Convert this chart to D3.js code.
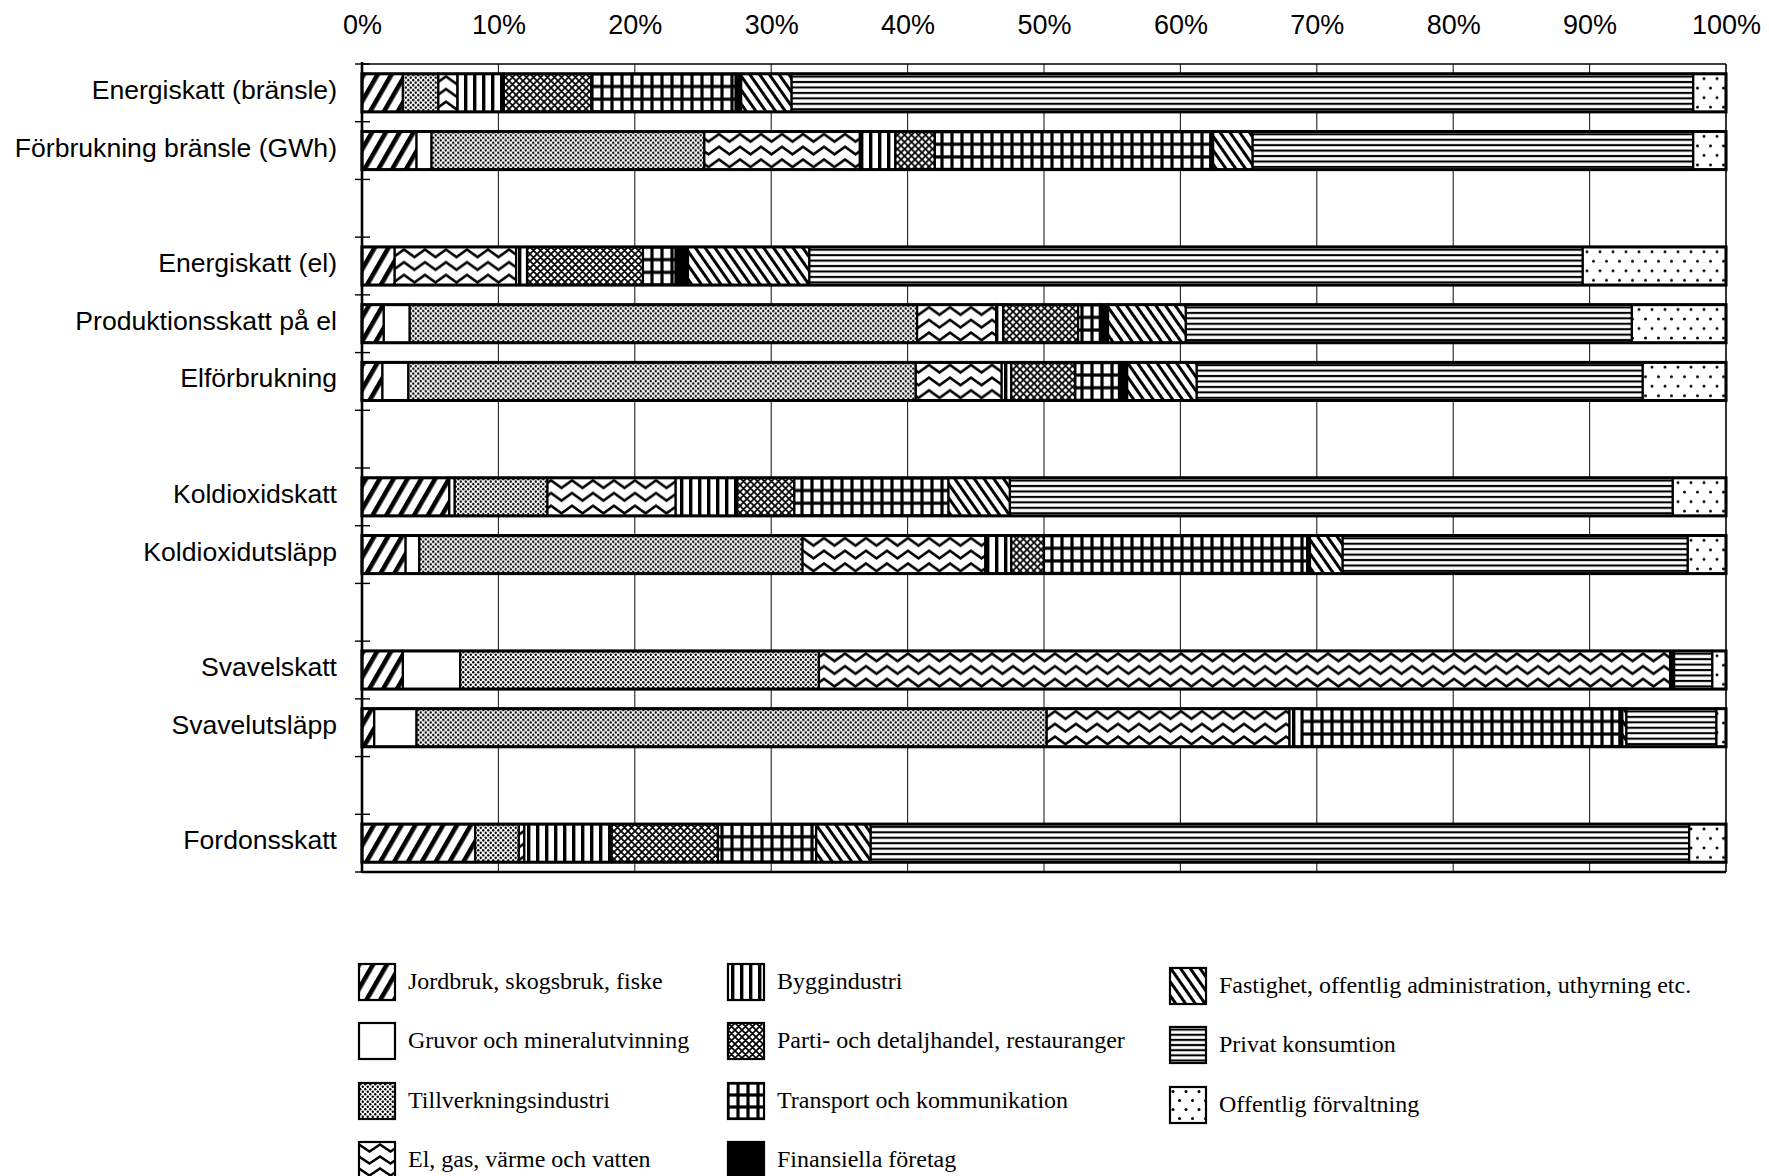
<!DOCTYPE html>
<html><head><meta charset="utf-8">
<script src="https://cdn.jsdelivr.net/npm/d3@7"></script>
<style>body{margin:0;background:#fff} svg{display:block}</style>
</head><body>
<svg id="chart" width="1769" height="1176"></svg>
<script>
// ---------------- DATA ----------------
const categories = ["Energiskatt (bränsle)", "Förbrukning bränsle (GWh)", "Energiskatt (el)",
  "Produktionsskatt på el", "Elförbrukning", "Koldioxidskatt", "Koldioxidutsläpp",
  "Svavelskatt", "Svavelutsläpp", "Fordonsskatt"];
// order of rows, null = empty gap row
const slotOrder = [0, 1, null, 2, 3, 4, null, 5, 6, null, 7, 8, null, 9];
const sectorNames = ["Jordbruk, skogsbruk, fiske", "Gruvor och mineralutvinning", "Tillverkningsindustri",
  "El, gas, värme och vatten", "Byggindustri", "Parti- och detaljhandel, restauranger",
  "Transport och kommunikation", "Finansiella företag",
  "Fastighet, offentlig administration, uthyrning etc.", "Privat konsumtion", "Offentlig förvaltning"];
// shares in percent, one value per category
const jordbruk     = [3.0, 4.0, 2.4, 1.6, 1.5, 6.4, 3.2, 3.0, 0.9, 8.3];
const gruvor       = [0.0, 1.1, 0.0, 1.9, 1.9, 0.4, 1.0, 4.2, 3.1, 0.0];
const tillverkning = [2.6, 20.0, 0.0, 37.2, 37.2, 6.8, 28.1, 26.3, 46.2, 3.2];
const elGas        = [1.4, 11.4, 8.9, 5.8, 6.3, 9.4, 13.4, 62.4, 17.8, 0.4];
const bygg         = [3.4, 2.6, 0.8, 0.5, 0.7, 4.5, 1.9, 0.0, 0.9, 6.4];
const parti        = [6.4, 2.9, 8.5, 5.5, 4.7, 4.2, 2.4, 0.0, 0.0, 7.8];
const transport    = [10.6, 20.2, 2.4, 1.6, 3.2, 11.3, 19.3, 0.0, 23.3, 7.2];
const finansiella  = [0.4, 0.2, 0.9, 0.6, 0.6, 0.0, 0.2, 0.3, 0.2, 0.0];
const fastighet    = [3.7, 2.9, 8.9, 5.7, 5.1, 4.5, 2.4, 0.0, 0.3, 4.0];
const privat       = [66.1, 32.3, 56.7, 32.7, 32.7, 48.6, 25.3, 2.8, 6.6, 60.0];
const offentlig    = [2.4, 2.4, 10.5, 6.9, 6.1, 3.9, 2.8, 1.0, 0.7, 2.7];
const percentTicks = [0, 10, 20, 30, 40, 50, 60, 70, 80, 90, 100];
// legend layout: [column, row] for each sector
const legendCells = [[0,0],[0,1],[0,2],[0,3],[1,0],[1,1],[1,2],[1,3],[2,0],[2,1],[2,2]];

// ---------------- SETUP ----------------
const seriesValues = [jordbruk, gruvor, tillverkning, elGas, bygg, parti, transport, finansiella, fastighet, privat, offentlig];
const keys = seriesValues.map((_, k) => "s" + k);
const table = categories.map((c, i) => {
  const o = {cat: c, idx: i};
  seriesValues.forEach((arr, k) => o["s" + k] = arr[i]);
  return o;
});
const stacked = d3.stack().keys(keys)(table);

const svg = d3.select("#chart");
const defs = svg.append("defs");
const X0 = 362, X1 = 1726, Y0 = 64, Y1 = 872;
const x = d3.scaleLinear().domain([0, 100]).range([X0, X1]);
const y = d3.scaleBand().domain(d3.range(slotOrder.length)).range([Y0, Y1]).paddingInner(0.34).paddingOuter(0.17);
const bh = y.bandwidth();
const slotOf = i => slotOrder.indexOf(i);

function addPattern(id, k, ox, oy, h) {
  const p = defs.append("pattern").attr("id", id).attr("patternUnits", "userSpaceOnUse").attr("x", ox).attr("y", oy);
  const bg = (w, hh, c) => p.append("rect").attr("width", w).attr("height", hh).attr("fill", c);
  if (k === 0) { p.attr("width", 12).attr("height", 12).attr("patternTransform", "rotate(30)");
    bg(12, 12, "#fff"); p.append("rect").attr("width", 4.6).attr("height", 12).attr("fill", "#000"); }
  else if (k === 1) { p.attr("width", 10).attr("height", 10); bg(10, 10, "#fff"); }
  else if (k === 2) { p.attr("width", 5).attr("height", 5); bg(5, 5, "#fff");
    [[1.25,1.25],[3.75,3.75]].forEach(c => p.append("circle").attr("cx", c[0]).attr("cy", c[1]).attr("r", 1.2).attr("fill", "#000")); }
  else if (k === 3) { const ph = h / 3; p.attr("width", 21).attr("height", ph); bg(21, ph, "#fff");
    p.append("path").attr("d", `M-10.5,${ph*0.8} L0,${ph*0.2} L10.5,${ph*0.8} L21,${ph*0.2} L31.5,${ph*0.8}`)
      .attr("fill", "none").attr("stroke", "#000").attr("stroke-width", 2.5); }
  else if (k === 4) { p.attr("width", 9).attr("height", 10); bg(9, 10, "#fff");
    p.append("rect").attr("x", 3).attr("width", 3.4).attr("height", 10).attr("fill", "#000"); }
  else if (k === 5) { p.attr("width", 7).attr("height", 7); bg(7, 7, "#fff");
    p.append("path").attr("d", "M0,0 L7,7 M7,0 L0,7 M-1,1 L1,-1 M6,8 L8,6 M-1,6 L1,8 M6,-1 L8,1").attr("stroke", "#000").attr("stroke-width", 1.7); }
  else if (k === 6) { const ph = h / 3; p.attr("width", 10).attr("height", ph); bg(10, ph, "#000");
    p.append("rect").attr("x", 1.6).attr("y", 1.6).attr("width", 6.8).attr("height", ph - 3.2).attr("fill", "#fff"); }
  else if (k === 7) { p.attr("width", 10).attr("height", 10); bg(10, 10, "#000"); }
  else if (k === 8) { p.attr("width", 8).attr("height", 8).attr("patternTransform", "rotate(-35)");
    bg(8, 8, "#fff"); p.append("rect").attr("width", 3).attr("height", 8).attr("fill", "#000"); }
  else if (k === 9) { const ph = h / 7; p.attr("width", 10).attr("height", ph); bg(10, ph, "#fff");
    p.append("rect").attr("y", ph / 2 - 1).attr("width", 10).attr("height", 2.1).attr("fill", "#000"); }
  else if (k === 10) { const ph = h / 2; p.attr("width", 13).attr("height", ph); bg(13, ph, "#fff");
    [[3, ph*0.25],[9.5, ph*0.75]].forEach(c => p.append("circle").attr("cx", c[0]).attr("cy", c[1]).attr("r", 1.5).attr("fill", "#000")); }
}

// patterns per row
categories.forEach((c, i) => keys.forEach((key, k) => addPattern(`p${k}r${i}`, k, X0, y(slotOf(i)), bh)));

// ---------------- GRID & FRAME ----------------
svg.append("g").selectAll("line").data(percentTicks.slice(1, -1)).join("line")
  .attr("x1", d => x(d)).attr("x2", d => x(d)).attr("y1", Y0).attr("y2", Y1)
  .attr("stroke", "#222").attr("stroke-width", 1.1);

// top labels
const topAxis = svg.append("g").attr("transform", `translate(0,${Y0})`)
  .call(d3.axisTop(x).tickValues(percentTicks).tickFormat(d => d + "%").tickSize(0).tickPadding(0));
topAxis.select(".domain").remove();
topAxis.selectAll("text").attr("y", -30).attr("font-size", 27).attr("fill", "#000")
  .attr("font-family", "'Liberation Sans', Arial, sans-serif");

// ---------------- BARS ----------------
const gBars = svg.append("g");
stacked.forEach((series, k) => {
  gBars.append("g").selectAll("rect").data(series.filter(d => d[1] - d[0] > 0)).join("rect")
    .attr("x", d => x(d[0])).attr("width", d => x(d[1]) - x(d[0]))
    .attr("y", d => y(slotOf(d.data.idx))).attr("height", bh)
    .attr("fill", d => `url(#p${k}r${d.data.idx})`)
    .attr("stroke", "#000").attr("stroke-width", 2.2);
});
gBars.append("g").selectAll("rect").data(table).join("rect")
  .attr("x", x(0)).attr("width", x(100) - x(0))
  .attr("y", d => y(slotOf(d.idx))).attr("height", bh)
  .attr("fill", "none").attr("stroke", "#000").attr("stroke-width", 3);

// frame
svg.append("line").attr("x1", X0).attr("x2", X1).attr("y1", Y0).attr("y2", Y0).attr("stroke", "#000").attr("stroke-width", 1.6);
svg.append("line").attr("x1", X0).attr("x2", X1).attr("y1", Y1).attr("y2", Y1).attr("stroke", "#000").attr("stroke-width", 2.4);
svg.append("line").attr("x1", X1).attr("x2", X1).attr("y1", Y0).attr("y2", Y1).attr("stroke", "#000").attr("stroke-width", 1.6);
svg.append("line").attr("x1", X0).attr("x2", X0).attr("y1", Y0 - 2).attr("y2", Y1 + 1).attr("stroke", "#000").attr("stroke-width", 2.6);
// left ticks at slot boundaries
const boundaries = d3.range(slotOrder.length + 1).map(s => Y0 + s * y.step());
svg.append("g").selectAll("line").data(boundaries).join("line")
  .attr("x1", X0 - 7).attr("x2", X0 + 8).attr("y1", d => d).attr("y2", d => d)
  .attr("stroke", "#000").attr("stroke-width", 1.4);

// category labels
svg.append("g").selectAll("text").data(table).join("text")
  .attr("x", 337).attr("y", d => y(slotOf(d.idx)) + bh / 2 - 1)
  .attr("dominant-baseline", "middle").attr("text-anchor", "end")
  .attr("font-family", "'Liberation Sans', Arial, sans-serif").attr("font-size", 26.6).attr("fill", "#000")
  .text(d => d.cat);

// ---------------- LEGEND ----------------
const colX = [359, 728, 1170], rowY = [982, 1041, 1101, 1160], colDy = [0, 0, 4];
const sw = 36;
const gLeg = svg.append("g");
sectorNames.forEach((name, k) => {
  const [c, r] = legendCells[k];
  const cx = colX[c], cy = rowY[r] + colDy[c];
  addPattern(`leg${k}`, k, cx, cy - sw / 2, sw);
  gLeg.append("rect").attr("x", cx).attr("y", cy - sw / 2).attr("width", sw).attr("height", sw)
    .attr("fill", `url(#leg${k})`).attr("stroke", "#000").attr("stroke-width", 2.2);
  gLeg.append("text").attr("x", cx + 49).attr("y", cy + 7)
    .attr("font-family", "'Liberation Serif', 'Times New Roman', serif").attr("font-size", 24).attr("fill", "#000")
    .text(name);
});
</script>
</body></html>
